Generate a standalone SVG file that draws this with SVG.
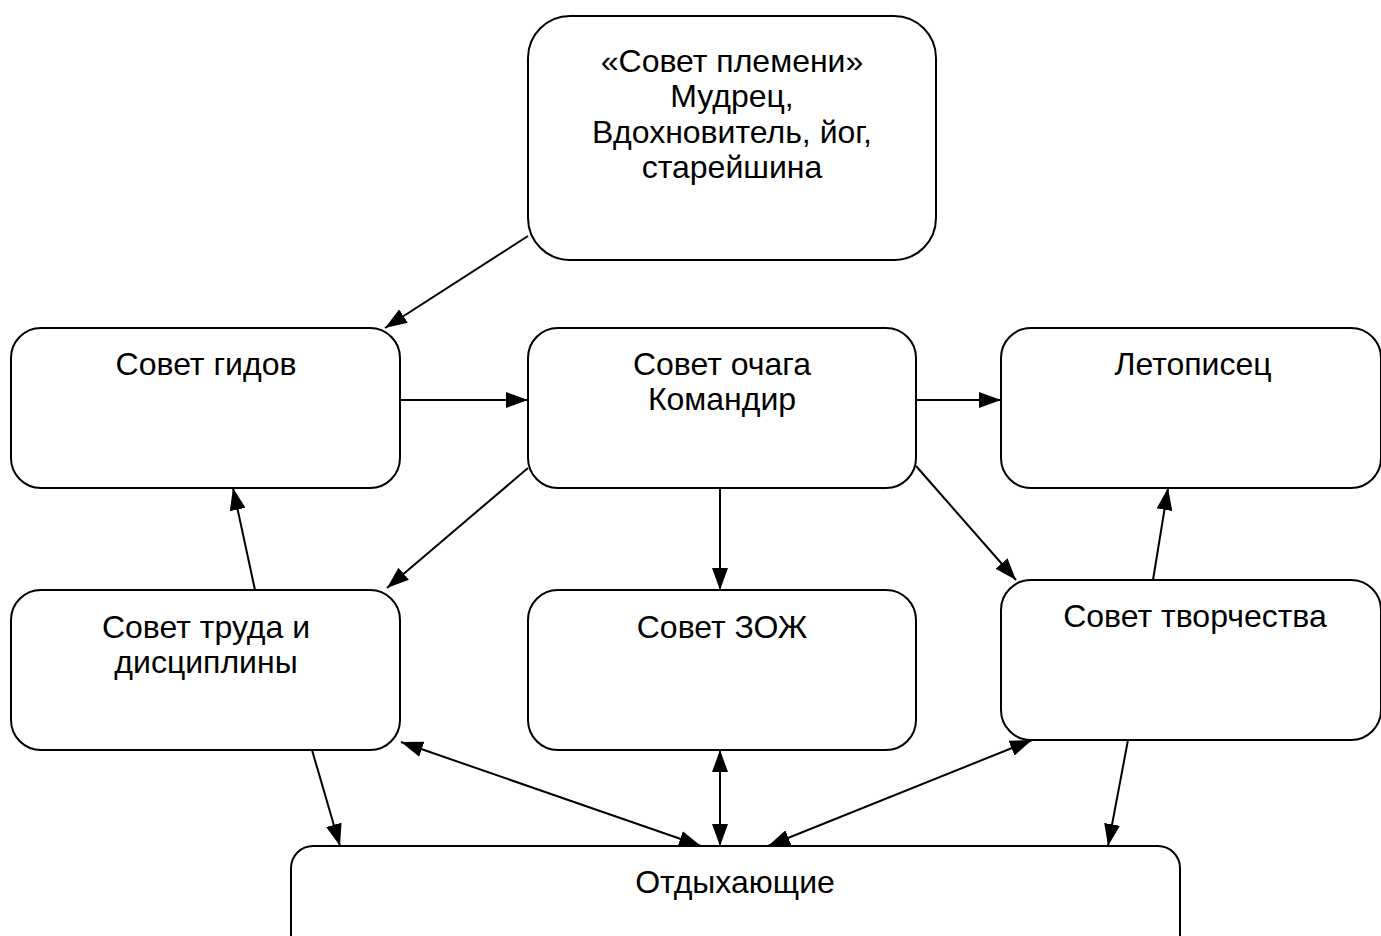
<svg xmlns="http://www.w3.org/2000/svg" width="1381" height="936" viewBox="0 0 1381 936">
<style>
.box{fill:#fff;stroke:#000;stroke-width:2}
.lbl{font-family:"Liberation Sans",Arial,sans-serif;font-size:32px;fill:#000;text-anchor:middle}
.c{stroke:#000;stroke-width:2;fill:none}
</style>
<defs>
<marker id="ah" viewBox="0 0 22 16" refX="22" refY="8" markerWidth="22" markerHeight="16" markerUnits="userSpaceOnUse" orient="auto-start-reverse">
<path d="M0,0 L22,8 L0,16 Z" fill="#000"/>
</marker>
</defs>
<rect width="1381" height="936" fill="#fff"/>
<g id="n-top"><rect class="box" x="528" y="16" width="408" height="244" rx="42"/>
<text class="lbl" x="732" y="72">«Совет племени»</text>
<text class="lbl" x="732" y="107">Мудрец,</text>
<text class="lbl" x="732" y="143">Вдохновитель, йог,</text>
<text class="lbl" x="732" y="178">старейшина</text></g>
<g id="n-gidov"><rect class="box" x="11" y="328" width="389" height="160" rx="30"/>
<text class="lbl" x="206" y="375">Совет гидов</text></g>
<g id="n-ochag"><rect class="box" x="528" y="328" width="388" height="160" rx="30"/>
<text class="lbl" x="722" y="375">Совет очага</text>
<text class="lbl" x="722" y="410">Командир</text></g>
<g id="n-letop"><rect class="box" x="1001" y="328" width="380" height="160" rx="30"/>
<text class="lbl" x="1193" y="375">Летописец</text></g>
<g id="n-trud"><rect class="box" x="11" y="590" width="389" height="160" rx="30"/>
<text class="lbl" x="206" y="638">Совет труда и</text>
<text class="lbl" x="206" y="673">дисциплины</text></g>
<g id="n-zozh"><rect class="box" x="528" y="590" width="388" height="160" rx="30"/>
<text class="lbl" x="722" y="638">Совет ЗОЖ</text></g>
<g id="n-tvor"><rect class="box" x="1001" y="580" width="380" height="160" rx="30"/>
<text class="lbl" x="1195" y="627">Совет творчества</text></g>
<g id="n-otd"><rect class="box" x="291" y="846" width="889" height="120" rx="22"/>
<text class="lbl" x="735" y="893">Отдыхающие</text></g>
<g id="connectors">
<line class="c" x1="528" y1="236" x2="385" y2="328" marker-end="url(#ah)"/>
<line class="c" x1="400" y1="400" x2="528" y2="400" marker-end="url(#ah)"/>
<line class="c" x1="916" y1="400" x2="1001" y2="400" marker-end="url(#ah)"/>
<line class="c" x1="528" y1="468" x2="387" y2="588" marker-end="url(#ah)"/>
<line class="c" x1="720" y1="488" x2="720" y2="590" marker-end="url(#ah)"/>
<line class="c" x1="916" y1="466" x2="1016" y2="580" marker-end="url(#ah)"/>
<line class="c" x1="1153" y1="580" x2="1168" y2="488" marker-end="url(#ah)"/>
<line class="c" x1="255" y1="590" x2="233" y2="488" marker-end="url(#ah)"/>
<line class="c" x1="312" y1="750" x2="340" y2="846" marker-end="url(#ah)"/>
<line class="c" x1="401" y1="742" x2="701" y2="846" marker-start="url(#ah)" marker-end="url(#ah)"/>
<line class="c" x1="720" y1="750" x2="720" y2="846" marker-start="url(#ah)" marker-end="url(#ah)"/>
<line class="c" x1="1032" y1="740" x2="768" y2="846" marker-start="url(#ah)" marker-end="url(#ah)"/>
<line class="c" x1="1128" y1="740" x2="1108" y2="846" marker-end="url(#ah)"/>
</g>
</svg>
